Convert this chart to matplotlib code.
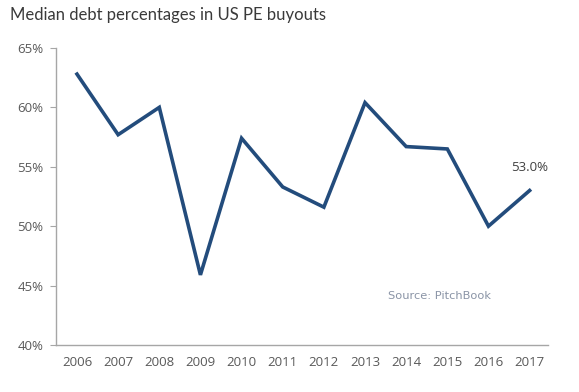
import matplotlib.pyplot as plt
import numpy as np

years = ['2006', '2007', '2008', '2009', '2010', '2011',
         '2012', '2013', '2014', '2015', '2016', '2017']
debt_pct = [62.8, 57.7, 60.0, 45.9, 57.4, 53.3,
            51.6, 60.4, 56.7, 56.5, 50.0, 53.0]
y_ticks = [40, 45, 50, 55, 60, 65]

fig = plt.figure(figsize=(5.79, 3.92), dpi=100)
ax = fig.add_axes([0.0967, 0.12, 0.85, 0.7576])

x = np.arange(len(years))
ax.plot(x, debt_pct, color='#234c7c', linewidth=2.6, solid_joinstyle='miter')

ax.set_xlim(-0.51, 11.45)
ax.set_ylim(40, 65)
ax.set_yticks(y_ticks)
ax.set_yticklabels([f'{v}%' for v in y_ticks], fontsize=9.5, color='#595959',
                   family='Open Sans')
ax.set_xticks(x)
ax.set_xticklabels(years, fontsize=9.5, color='#595959', family='Open Sans')
ax.tick_params(axis='y', length=4, color='#a6a6a6', pad=5)
ax.tick_params(axis='x', length=0, pad=8)

for side in ['top', 'right']:
    ax.spines[side].set_visible(False)
for side in ['left', 'bottom']:
    ax.spines[side].set_color('#a6a6a6')
    ax.spines[side].set_linewidth(1.0)

# label on the last point
ax.annotate(f'{debt_pct[-1]:.1f}%', (x[-1], debt_pct[-1]), xytext=(0, 12),
            textcoords='offset points', ha='center', va='bottom',
            fontsize=9.5, color='#404040', family='Open Sans')

fig.text(0.017, 0.962, 'Median debt percentages in US PE buyouts',
         fontsize=12, color='#3a3a3a', family='Lato', va='center')
fig.text(0.67, 0.245, 'Source: PitchBook', fontsize=8.2, color='#8a94a6',
         family='DejaVu Sans', va='center')

fig.savefig('out.png', dpi=100)
